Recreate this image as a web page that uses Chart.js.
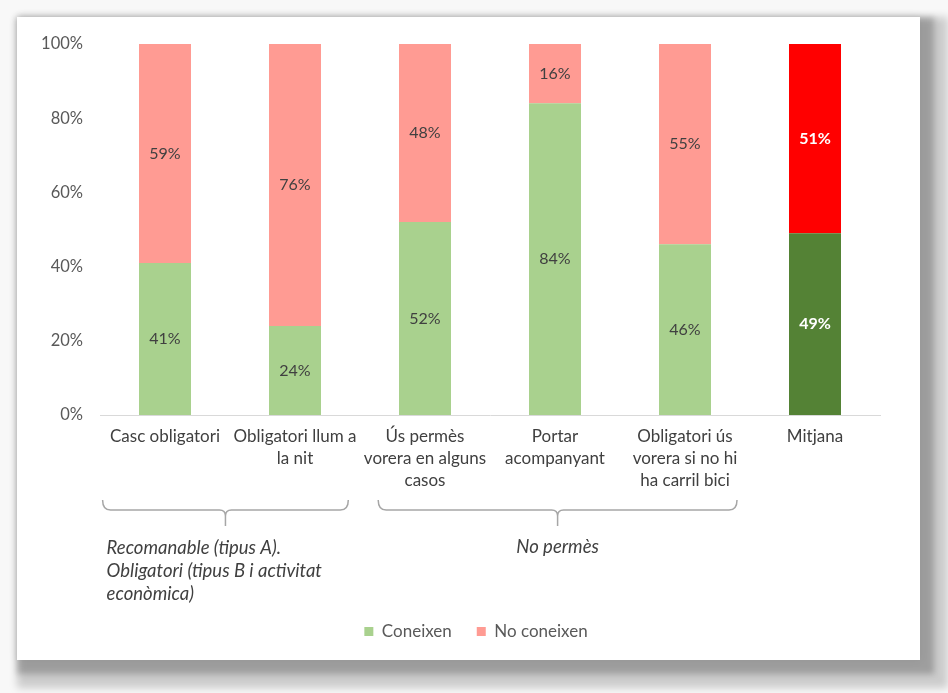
<!DOCTYPE html>
<html><head><meta charset="utf-8">
<script src="https://cdn.jsdelivr.net/npm/chart.js@4.4.0/dist/chart.umd.min.js"></script>
<style>
html,body{margin:0;padding:0;width:948px;height:693px;overflow:hidden;background:#f8f8f8;}
#card{position:absolute;left:17px;top:17px;width:903px;height:643px;background:#fff;
 box-shadow:0 0 10px rgba(0,0,0,0.06), 7px 7px 6px 7px rgba(0,0,0,0.22), 14px 14px 8px 14px rgba(0,0,0,0.18);}
#c{position:absolute;left:0;top:0;}
</style></head><body>
<div id="card"></div>
<canvas id="c" width="948" height="693"></canvas>
<script>
const categories = [
  ['Casc obligatori'],
  ['Obligatori llum a', 'la nit'],
  ['Ús permès', 'vorera en alguns', 'casos'],
  ['Portar', 'acompanyant'],
  ['Obligatori ús', 'vorera si no hi', 'ha carril bici'],
  ['Mitjana']
];
const coneixen   = [41, 24, 52, 84, 46, 49];
const noConeixen = [59, 76, 48, 16, 55, 51];
const seriesNames = ['Coneixen', 'No coneixen'];
const yTickValues = [0, 20, 40, 60, 80, 100];
const groupLabels = [
  ['Recomanable (tipus A).', 'Obligatori (tipus B i activitat', 'econòmica)'],
  ['No permès']
];
const groupRanges = [[0, 1], [2, 4]];

const FONT = 'Lato, "Open Sans", sans-serif';

const valueLabels = {
  id: 'valueLabels',
  afterDatasetsDraw(chart) {
    const ctx = chart.ctx, top = chart.chartArea.top;
    ctx.save();
    ctx.textAlign = 'center';
    ctx.textBaseline = 'middle';
    chart.data.datasets.forEach((ds, di) => {
      const meta = chart.getDatasetMeta(di);
      meta.data.forEach((el, i) => {
        const strong = i === ds.data.length - 1;
        const y = (Math.max(el.y, top) + el.base) / 2;
        ctx.font = (strong ? 'bold ' : '') + '16px ' + FONT;
        ctx.fillStyle = strong ? '#ffffff' : '#404040';
        ctx.fillText(ds.data[i] + '%', el.x, y);
      });
    });
    ctx.restore();
  }
};

const braces = {
  id: 'braces',
  afterDraw(chart) {
    const ctx = chart.ctx, x = chart.scales.x, b = chart.chartArea.bottom;
    const step = x.getPixelForValue(1) - x.getPixelForValue(0);
    const insets = [[-0.48, 0.41], [-0.36, 0.40]];
    const yTop = b + 85, yMid = b + 95, yTip = b + 111;
    ctx.save();
    ctx.strokeStyle = '#a6a6a6';
    ctx.lineWidth = 1.5;
    groupRanges.forEach((r, gi) => {
      const x0 = x.getPixelForValue(r[0]) + insets[gi][0] * step;
      const x1 = x.getPixelForValue(r[1]) + insets[gi][1] * step;
      const xm = (x0 + x1) / 2;
      const rr = 8, rt = 6;
      ctx.beginPath();
      ctx.moveTo(x0, yTop);
      ctx.quadraticCurveTo(x0, yMid, x0 + rr, yMid);
      ctx.lineTo(xm - rt, yMid);
      ctx.quadraticCurveTo(xm, yMid, xm, yMid + rt);
      ctx.lineTo(xm, yTip);
      ctx.moveTo(x1, yTop);
      ctx.quadraticCurveTo(x1, yMid, x1 - rr, yMid);
      ctx.lineTo(xm + rt, yMid);
      ctx.quadraticCurveTo(xm, yMid, xm, yMid + rt);
      ctx.stroke();
      const lines = groupLabels[gi];
      ctx.font = 'italic 18.5px ' + FONT;
      ctx.fillStyle = '#404040';
      ctx.textBaseline = 'middle';
      if (lines.length > 1) {
        ctx.textAlign = 'left';
        lines.forEach((t, li) => ctx.fillText(t, x0 + 4, b + 133 + li * 23));
      } else {
        ctx.textAlign = 'center';
        lines.forEach((t, li) => ctx.fillText(t, xm, b + 132 + li * 23));
      }
    });
    ctx.restore();
  }
};

const legendShift = {
  id: 'legendShift',
  afterLayout(chart) {
    const lg = chart.legend;
    if (lg) { lg.left += 36; lg.right += 36; }
  }
};

const lastIdx = categories.length - 1;
new Chart(document.getElementById('c'), {
  type: 'bar',
  data: {
    labels: categories,
    datasets: [
      { label: seriesNames[0], data: coneixen, clip: 0,
        backgroundColor: c => c.dataIndex === lastIdx ? '#548235' : '#a9d18e' },
      { label: seriesNames[1], data: noConeixen, clip: 0,
        backgroundColor: c => c.dataIndex === lastIdx ? '#ff0000' : '#ff9b93' }
    ]
  },
  options: {
    responsive: false,
    animation: false,
    devicePixelRatio: 1,
    categoryPercentage: 1,
    barPercentage: 0.4,
    layout: { padding: { top: 44, right: 68, bottom: 43, left: 0 } },
    scales: {
      x: {
        stacked: true,
        grid: { display: false, drawTicks: false },
        border: { display: true, color: '#d9d9d9', width: 1 },
        ticks: { autoSkip: false, maxRotation: 0, minRotation: 0, padding: 11,
                 color: '#404040', font: { family: FONT, size: 17, lineHeight: 1.294 } },
        afterFit(s) { s.height = 183; }
      },
      y: {
        stacked: true, min: 0, max: 100,
        afterBuildTicks(s) { s.ticks = yTickValues.map(v => ({ value: v })); },
        grid: { display: false, drawTicks: false },
        border: { display: false },
        ticks: { padding: 17, color: '#595959', font: { family: FONT, size: 16.5 },
                 callback: v => v + '%' },
        afterFit(s) { s.width = 100; }
      }
    },
    plugins: {
      legend: {
        position: 'bottom',
        labels: { boxWidth: 9, boxHeight: 9, padding: 25, color: '#595959',
                  font: { family: FONT, size: 17 } }
      },
      tooltip: { enabled: false }
    }
  },
  plugins: [valueLabels, braces, legendShift]
});
</script>
</body></html>
